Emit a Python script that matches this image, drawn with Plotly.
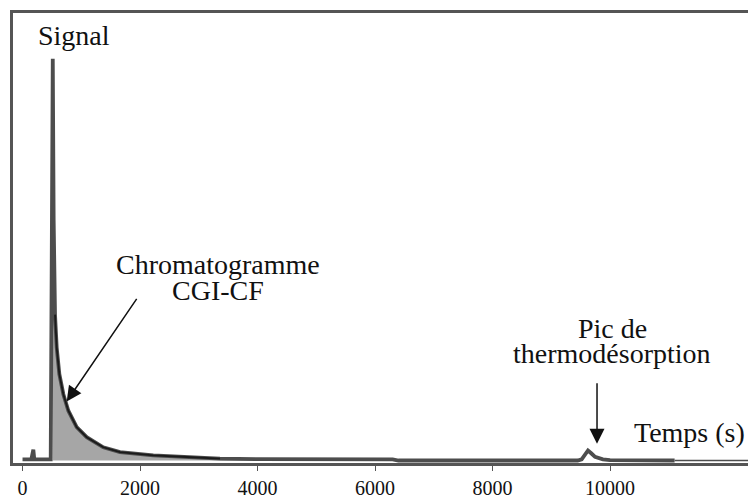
import plotly.graph_objects as go

# chromatogram trace (time in s, signal in % of main peak)
time_s = [0, 150, 184, 200, 480, 500, 515, 530, 553, 582, 627, 695, 780, 922,
          1093, 1375, 1660, 2226, 2795, 3362, 4000, 5000, 6300, 6400, 8000,
          9450, 9518, 9580, 9625, 9680, 9745, 9880, 10000, 11100, 12349]
signal = [0.3, 0.3, 2.7, 0.3, 0.3, 100, 100, 60, 36.3, 28.1, 21.5, 16.5, 12.4, 8.3,
          5.8, 3.3, 2.1, 1.3, 0.87, 0.45, 0.35, 0.3, 0.3, 0, 0,
          0, 0.3, 1.8, 2.5, 1.8, 0.9, 0.3, 0.1, 0, 0]
tick_vals = [0, 2000, 4000, 6000, 8000, 10000]
tick_text = ["0", "2000", "4000", "6000", "8000", "10000"]

FONT = "Liberation Serif"
DARK, FILL, INK = "#4d4d4d", "#a6a6a6", "#111111"

i_fill0, i_fill1 = time_s.index(515), time_s.index(6300) + 1
i_dec0, i_dec1 = time_s.index(553), time_s.index(3362) + 1
i_tail = time_s.index(11100)

fig = go.Figure()
fig.add_trace(go.Scatter(x=time_s[i_fill0:i_fill1], y=signal[i_fill0:i_fill1], fill="tozeroy",
                         fillcolor=FILL, mode="lines", line=dict(width=0)))
fig.add_trace(go.Scatter(x=time_s[:i_tail + 1], y=signal[:i_tail + 1], mode="lines",
                         line=dict(color=DARK, width=3.8)))
fig.add_trace(go.Scatter(x=time_s[i_dec0:i_dec1], y=signal[i_dec0:i_dec1], mode="lines",
                         line=dict(color="#1a1a1a", width=1.8)))
fig.add_trace(go.Scatter(x=time_s[i_tail:], y=signal[i_tail:], mode="lines",
                         line=dict(color=DARK, width=1.5)))


def label(text, x, y):
    fig.add_annotation(x=x, y=y, text=text, showarrow=False, xanchor="center",
                       yanchor="middle", font=dict(family=FONT, size=28, color=INK))


label("Signal", 877, 105.7)
label("Chromatogramme", 3319, 48.9)
label("CGI-CF", 3319, 42.3)
label("Pic de", 10034, 32.8)
label("thermodésorption", 10034, 26.6)
label("Temps (s)", 11353, 7.0)

for x, y, ax, ay in [(752, 14.7, 71, -104), (9779, 4.15, 0, -62)]:
    fig.add_annotation(x=x, y=y, ax=ax, ay=ay, text="", showarrow=True, arrowhead=2,
                       arrowsize=2, arrowwidth=1.5, arrowcolor=INK)

fig.update_layout(width=748, height=499, paper_bgcolor="white", plot_bgcolor="white",
                  showlegend=False, margin=dict(l=13, r=0, t=13, b=33))
fig.update_xaxes(range=[-162, 12349], showgrid=False, zeroline=False, showline=True,
                 mirror=True, linecolor="#555555", linewidth=2.5, ticks="outside",
                 ticklen=5, tickcolor="#555555", tickvals=tick_vals, ticktext=tick_text,
                 tickfont=dict(family=FONT, size=20, color=INK))
fig.update_yaxes(range=[-0.62, 111.37], showgrid=False, zeroline=False, showline=True,
                 linecolor="#555555", linewidth=2.5, showticklabels=False, ticks="")

# drop the default 8px body margin so the figure sits at the window corner
fig.write_html("out.html", config={"displayModeBar": False},
               post_script="document.body.style.margin = '0';")
